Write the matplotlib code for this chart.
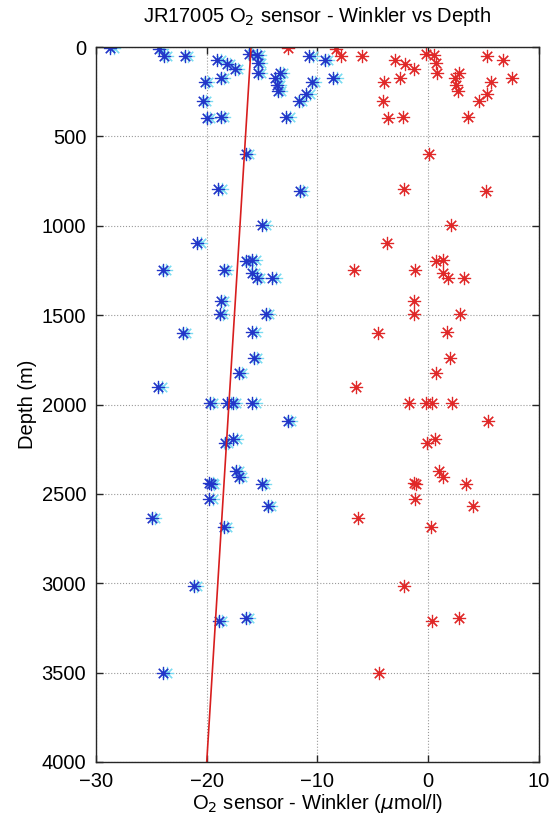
import matplotlib
matplotlib.use('Agg')
import matplotlib.pyplot as plt

plt.rcParams['font.family'] = ['Liberation Sans', 'DejaVu Sans']

# bottle depths (m)
depth = [5, 13, 50, 48, 73, 95, 123, 39, 46, 91, 147, 194, 172, 300, 399, 393,
         175, 144, 213, 246, 393, 300, 263, 194, 47, 73, 172,
         599, 796, 806, 996, 1098, 1248, 1248, 1197, 1192, 1266, 1290, 1294,
         1419, 1494, 1494, 1598, 1592, 1742, 1822, 1900, 1994, 1994, 1994, 1994,
         2091, 2193, 2217, 2370, 2404, 2441, 2446, 2445, 2530, 2566, 2633, 2684,
         3013, 3211, 3196, 3504]

# raw O2 sensor - Winkler differences (umol/l)
diff_raw = [-28.7, -24.3, -23.9, -22.0, -19.05, -18.2, -17.45, -16.2, -15.5, -15.4, -15.4,
            -20.16, -18.75, -20.37, -20.0, -18.7, -13.8, -13.4, -13.7, -13.6, -12.8,
            -11.7, -11.0, -10.5, -10.75, -9.33, -8.58,
            -16.49, -18.96, -11.59, -14.99, -20.86, -23.98, -18.45, -16.49, -15.89,
            -15.95, -15.5, -14.09, -18.72, -18.8, -14.66, -22.18, -15.89, -15.74,
            -17.09, -24.38, -19.71, -18.15, -17.66, -15.89, -12.7, -17.61, -18.36,
            -17.39, -17.09, -19.77, -19.6, -15.05, -19.77, -14.5, -24.97, -18.45,
            -21.16, -18.9, -16.46, -23.93]

# duplicate Winkler bottles
diff_dup = [-28.4, -24.0, -23.6, -21.7, -18.75, -17.9, -17.15, -15.9, -15.2, -15.1, -15.1,
            -19.86, -18.45, -20.07, -19.7, -18.4, -13.5, -13.1, -13.4, -13.3, -12.5,
            -11.4, -10.7, -10.2, -10.45, -9.03, -8.28,
            -16.19, -18.66, -11.29, -14.69, -20.56, -23.68, -18.15, -16.19, -15.59,
            -15.65, -15.2, -13.79, -18.42, -18.5, -14.36, -21.88, -15.59, -15.44,
            -16.79, -24.08, -19.41, -17.85, -17.36, -15.59, -12.4, -17.31, -18.06,
            -17.09, -16.79, -19.47, -19.3, -14.75, -19.47, -14.2, -24.67, -18.15,
            -20.86, -18.6, -16.16, -23.63]

# differences after removing the depth-dependent fit
diff_corr = [-12.70, -8.29, -7.85, -5.95, -2.98, -2.11, -1.33, -0.16, 0.55, 0.69, 0.75,
             -3.97, -2.58, -4.07, -3.60, -2.31, 2.38, 2.74, 2.51, 2.65, 3.59,
             4.60, 5.26, 5.69, 5.30, 6.74, 7.59,
             0.11, -2.16, 5.22, 2.01, -3.76, -6.73, -1.20, 0.71, 1.30,
             1.32, 1.79, 3.20, -1.30, -1.31, 2.83, -4.58, 1.70, 2.00,
             0.73, -6.48, -1.72, -0.16, 0.33, 2.10, 5.39, 0.58, -0.14,
             0.98, 1.31, -1.33, -1.15, 3.40, -1.24, 4.07, -6.34, 0.23,
             -2.15, 0.31, 2.74, -4.43]

# linear fit of offset vs depth
fit_depth = [0, 4000]
fit_diff = [-16.0, -20.0]

ast = (8, 2, 0)  # asterisk: + and x together

fig = plt.figure(figsize=(5.5, 8.22), dpi=100)
ax = fig.add_axes([0.1745, 0.073, 0.8055, 0.8697])

ax.plot(diff_dup, depth, ls='none', marker=ast, color='#7adcf2', ms=9.5, mew=0.85)
ax.plot(diff_raw, depth, ls='none', marker=ast, color='#2236c8', ms=9.5, mew=0.85)
ax.plot(diff_corr, depth, ls='none', marker=ast, color='#e02828', ms=9.5, mew=0.85)
ax.plot(fit_diff, fit_depth, '-', color='#d81e1e', lw=1.2)

ax.set_xlim(-30, 10)
ax.set_ylim(4000, 0)
ax.set_xticks([-30, -20, -10, 0, 10])
ax.set_yticks(range(0, 4001, 500))
ax.grid(True, ls=':', color='#9a9a9a', lw=0.8)
ax.tick_params(direction='in', length=5, width=1, top=True, right=True,
               labelsize=14.5, colors='#262626', labelcolor='black')
ax.tick_params(axis='x', pad=7)
ax.tick_params(axis='y', pad=7)
for s in ax.spines.values():
    s.set_color('#262626')
    s.set_linewidth(1.0)

ax.set_title('JR17005 O$_2$ sensor - Winkler vs Depth', fontsize=14.5, pad=18)
ax.set_xlabel('O$_2$ sensor - Winkler ($\\mu$mol/l)', fontsize=14.5, labelpad=1)
ax.set_ylabel('Depth (m)', fontsize=14.5, labelpad=3)

fig.savefig('out.png', dpi=100)
